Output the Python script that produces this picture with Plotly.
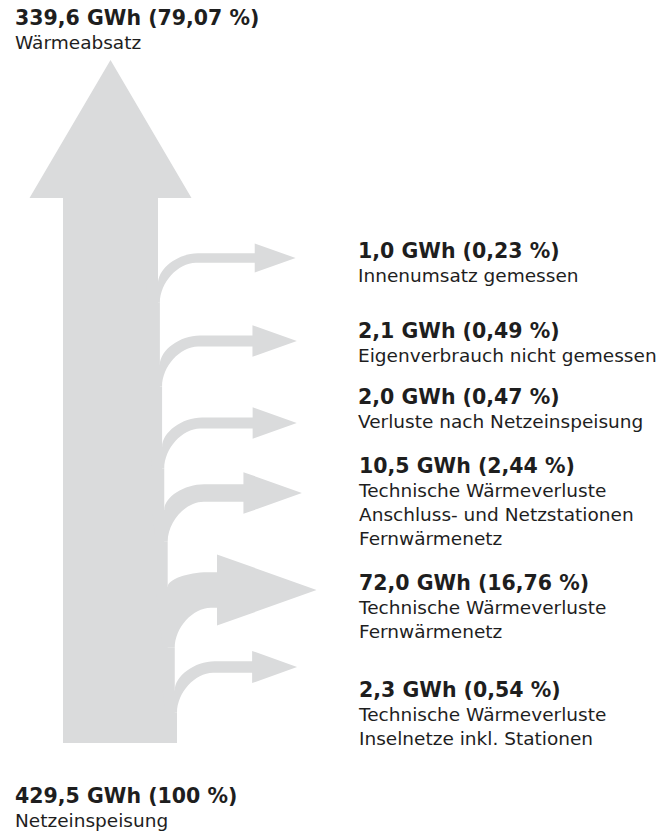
import math
import plotly.graph_objects as go

# ---------------- data ----------------
SOURCE_LABEL = "Netzeinspeisung"
SOURCE_GWH = 429.5
SOURCE_PCT = "100"
SINK_LABEL = "Wärmeabsatz"
SINK_GWH = 339.6
SINK_PCT = "79,07"
LOSS_GWH = [1.0, 2.1, 2.0, 10.5, 72.0, 2.3]
LOSS_PCT = ["0,23", "0,49", "0,47", "2,44", "16,76", "0,54"]
LOSS_LABELS = [
    ["Innenumsatz gemessen"],
    ["Eigenverbrauch nicht gemessen"],
    ["Verluste nach Netzeinspeisung"],
    ["Technische Wärmeverluste", "Anschluss- und Netzstationen", "Fernwärmenetz"],
    ["Technische Wärmeverluste", "Fernwärmenetz"],
    ["Technische Wärmeverluste", "Inselnetze inkl. Stationen"],
]

# ---------------- layout / style ----------------
W, H = 658, 834
GREY = "#dadbdc"
TEXT = "#1e1e1e"
FONT = "DejaVu Sans"
BOLD_SIZE = 20.5
REG_SIZE = 18.5
STEM_LEFT = 63
STEM_W_BOTTOM = 114
STEM_W_TOP = 95
STEM_BOTTOM = 743
HEAD_BASE_Y = 198
HEAD_TIP_Y = 60
HEAD_HALF = 81
BRANCH_Y = [258, 341, 423, 493, 590, 667]
LABEL_Y = [251, 331, 397, 466, 583, 690]
LABEL_X = 357
TOP_OFFSET = 13
R_H = 40       # horizontal bend radius
R_V_LOW = 40   # vertical bend radius of lower edge


def de(v):
    return f"{v:.1f}".replace(".", ",")


def thick(v):
    return 6 + 3.5 * math.sqrt(v)


fig = go.Figure()

t_list = [thick(v) for v in LOSS_GWH]
total_step = STEM_W_BOTTOM - STEM_W_TOP
steps = [total_step * t / sum(t_list) for t in t_list]

# stem right edge above each branch (index from top)
right_above = []
cur = STEM_LEFT + STEM_W_TOP
for s in steps:
    right_above.append(cur)
    cur += s
right_bottom = cur

# stem polygon with stepped right edge
pts = [(STEM_LEFT, STEM_BOTTOM), (right_bottom, STEM_BOTTOM)]
for i in reversed(range(len(LOSS_GWH))):
    root_y = BRANCH_Y[i] + t_list[i] / 2 + R_V_LOW
    below = right_above[i] + steps[i]
    pts.append((below, root_y))
    pts.append((right_above[i], root_y))
pts.append((STEM_LEFT + STEM_W_TOP, HEAD_BASE_Y))
cx = STEM_LEFT + STEM_W_TOP / 2
pts += [(cx + HEAD_HALF, HEAD_BASE_Y), (cx, HEAD_TIP_Y), (cx - HEAD_HALF, HEAD_BASE_Y),
        (STEM_LEFT, HEAD_BASE_Y)]
path = "M " + " L ".join(f"{x:.2f},{y:.2f}" for x, y in pts) + " Z"
fig.add_shape(type="path", path=path, fillcolor=GREY, line_width=0, layer="below")

# branches
for i, v in enumerate(LOSS_GWH):
    t = t_list[i]
    yc = BRANCH_Y[i]
    sa = right_above[i]
    sb = sa + steps[i]
    h = 1.6 * t + 14
    tip = 281 + 0.5 * h
    hl = tip - 1.4 * h
    rvu = max(10, 36 - 0.6 * t)
    yt = yc - t / 2
    yb = yc + t / 2
    k = 0.5
    p = (
        f"M {sa-12:.2f},{yt+rvu:.2f} L {sa:.2f},{yt+rvu:.2f} "
        f"C {sa:.2f},{yt+rvu*(1-k):.2f} {sa+R_H*(1-k):.2f},{yt:.2f} {sa+R_H:.2f},{yt:.2f} "
        f"L {hl:.2f},{yt:.2f} L {hl:.2f},{yc-h/2:.2f} L {tip:.2f},{yc:.2f} "
        f"L {hl:.2f},{yc+h/2:.2f} L {hl:.2f},{yb:.2f} L {sb+R_H*0.9:.2f},{yb:.2f} "
        f"C {sb+R_H*0.9*(1-k):.2f},{yb:.2f} {sb:.2f},{yb+R_V_LOW*(1-k):.2f} {sb:.2f},{yb+R_V_LOW:.2f} "
        f"L {sb-12:.2f},{yb+R_V_LOW:.2f} Z"
    )
    fig.add_shape(type="path", path=p, fillcolor=GREY, line_width=0, layer="below")


def add_block(x, y, bold, lines):
    txt = f"<span style='font-size:{BOLD_SIZE}px'><b>{bold}</b></span>"
    for ln in lines:
        txt += "<br>" + ln
    fig.add_annotation(x=x, y=y - TOP_OFFSET, text=txt, showarrow=False, align="left",
                       xanchor="left", yanchor="top", xref="x", yref="y",
                       borderpad=0,
                       font=dict(family=FONT, size=REG_SIZE, color=TEXT))


for i, v in enumerate(LOSS_GWH):
    add_block(LABEL_X, LABEL_Y[i], f"{de(v)} GWh ({LOSS_PCT[i]} %)", LOSS_LABELS[i])

add_block(14, 18, f"{de(SINK_GWH)} GWh ({SINK_PCT} %)", [SINK_LABEL])
add_block(14, 796, f"{de(SOURCE_GWH)} GWh ({SOURCE_PCT} %)", [SOURCE_LABEL])

fig.add_trace(go.Scatter(x=[0, W], y=[0, H], mode="markers", marker=dict(opacity=0),
                         hoverinfo="skip", showlegend=False))

fig.update_layout(
    width=W, height=H, margin=dict(l=0, r=0, t=0, b=0),
    paper_bgcolor="white", plot_bgcolor="white", showlegend=False,
    xaxis=dict(range=[0, W], visible=False, fixedrange=True),
    yaxis=dict(range=[H, 0], visible=False, fixedrange=True),
)
fig.write_html("out.html")
